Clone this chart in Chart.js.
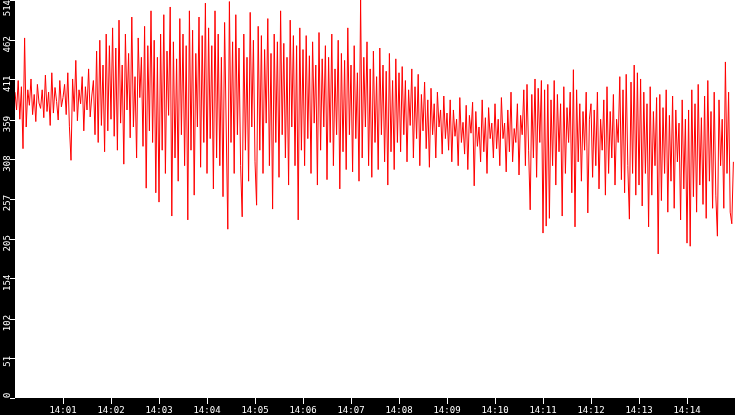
<!DOCTYPE html>
<html>
<head>
<meta charset="utf-8">
<script src="https://cdn.jsdelivr.net/npm/chart.js@4.4.1/dist/chart.umd.min.js"></script>
<style>
  html, body { margin: 0; padding: 0; background: #000; }
  #wrap { width: 735px; height: 415px; }
</style>
</head>
<body>
<div id="wrap"><canvas id="load" width="735" height="415"></canvas></div>
<script>
  // one sample every 2 seconds starting at 14:00:00, one row per minute
  const sampleStep = 2;
  const loadValues = [
    395, 372, 410, 360, 402, 322, 465, 350, 398, 378, 412, 366, 392, 357, 405, 381, 374, 398, 362, 417, 370, 395, 352, 420, 368, 401, 383, 359, 410, 376,
    388, 405, 366, 420, 351, 307, 412, 370, 436, 358, 398, 380, 415, 345, 402, 372, 425, 363, 390, 410, 340, 448, 330, 462, 352, 430, 318, 470, 345, 455,
    360, 478, 338, 452, 320, 488, 355, 430, 302, 470, 372, 445, 336, 492, 350, 415, 310, 465, 388, 440, 325, 480, 271, 455, 345, 500, 330, 462, 265, 440,
    253, 470, 320, 495, 290, 448, 365, 505, 235, 460, 310, 438, 280, 490, 340, 470, 300, 455, 230, 500, 320, 475, 262, 445, 350, 492, 298, 468, 330, 510,
    290, 478, 335, 455, 270, 500, 310, 470, 300, 440, 260, 485, 350, 218, 512, 330, 460, 290, 495, 340, 452, 300, 234, 470, 320, 440, 280, 498, 350, 462,
    305, 249, 480, 320, 468, 290, 450, 355, 490, 300, 445, 244, 470, 330, 460, 285, 500, 340, 458, 310, 440, 275, 488, 350, 468, 300, 455, 230, 478, 320,
    450, 300, 468, 335, 442, 290, 460, 355, 430, 275, 472, 320, 438, 350, 455, 282, 440, 330, 470, 300, 425, 340, 462, 270, 445, 318, 436, 295, 478, 340,
    430, 292, 455, 335, 420, 280, 514, 310, 440, 350, 460, 300, 425, 285, 448, 330, 415, 295, 452, 340, 430, 305, 422, 275, 445, 318, 410, 295, 438, 330,
    420, 318, 428, 340, 410, 305, 398, 352, 425, 310, 402, 335, 418, 300, 392, 345, 408, 322, 385, 298, 400, 340, 380, 310, 395, 350, 372, 315, 390, 335,
    368, 320, 385, 305, 372, 338, 360, 300, 388, 330, 356, 315, 378, 295, 365, 342, 382, 274, 370, 325, 350, 305, 385, 318, 362, 290, 375, 335, 355, 310,
    380, 322, 360, 300, 388, 335, 355, 292, 372, 318, 395, 305, 348, 330, 380, 288, 365, 340, 398, 300, 405, 320, 243, 392, 310, 412, 285, 400, 330, 410,
    213, 398, 222, 405, 232, 385, 300, 410, 275, 392, 318, 380, 235, 402, 290, 375, 330, 395, 265, 424, 221, 398, 305, 380, 280, 370, 320, 395, 239, 360,
    380, 285, 372, 300, 395, 270, 360, 320, 385, 262, 402, 290, 370, 310, 392, 275, 360, 330, 415, 282, 398, 265, 418, 300, 231, 408, 290, 430, 262, 420,
    275, 412, 248, 395, 290, 380, 221, 402, 262, 370, 300, 388, 186, 392, 255, 375, 290, 398, 240, 365, 280, 390, 245, 372, 305, 355, 230, 385, 270, 360,
    200, 372, 196, 398, 260, 380, 240, 405, 275, 362, 250, 390, 232, 410, 280, 370, 245, 395, 262, 209, 385, 300, 360, 245, 434, 290, 395, 240, 225, 305
  ];
  const xTickSeconds = [60, 120, 180, 240, 300, 360, 420, 480, 540, 600, 660, 720, 780, 840];
  const xTickLabels = ['14:01', '14:02', '14:03', '14:04', '14:05', '14:06', '14:07',
                       '14:08', '14:09', '14:10', '14:11', '14:12', '14:13', '14:14'];
  const yTicks = [0, 51, 102, 154, 205, 257, 308, 359, 411, 462, 514];

  const points = loadValues.map((v, i) => ({ x: i * sampleStep, y: v }));
  const fontFamily = 'DejaVu Sans Mono';

  // black frame around a white plot area
  const frame = {
    id: 'frame',
    beforeDraw(chart) {
      const { ctx, chartArea: a } = chart;
      ctx.save();
      ctx.fillStyle = '#000';
      ctx.fillRect(0, 0, chart.width, chart.height);
      ctx.fillStyle = '#fff';
      ctx.fillRect(a.left, a.top, a.right - a.left, a.bottom - a.top);
      ctx.restore();
    }
  };

  // vertical y labels, reading upward, kept inside the strip
  const yLabels = {
    id: 'yLabels',
    afterDraw(chart) {
      const { ctx, chartArea: a } = chart;
      const ys = chart.scales.y;
      ctx.save();
      ctx.font = '9px "' + fontFamily + '"';
      ctx.fillStyle = '#fff';
      ctx.textAlign = 'left';
      ctx.textBaseline = 'alphabetic';
      yTicks.forEach(v => {
        const txt = String(v);
        const w = ctx.measureText(txt).width;
        const py = ys.getPixelForValue(v);
        let start = py + w * 0.75;
        if (start - w < a.top) start = a.top + w;
        if (start > a.bottom) start = a.bottom;
        ctx.save();
        ctx.translate(10, start);
        ctx.rotate(-Math.PI / 2);
        ctx.fillText(txt, 0, 0);
        ctx.restore();
      });
      ctx.restore();
    }
  };

  new Chart(document.getElementById('load'), {
    type: 'line',
    data: {
      datasets: [{
        data: points,
        borderColor: '#ff0000',
        borderWidth: 1,
        pointRadius: 0,
        tension: 0,
        fill: false
      }]
    },
    options: {
      responsive: false,
      animation: false,
      layout: { padding: 0 },
      plugins: { legend: { display: false }, tooltip: { enabled: false } },
      scales: {
        x: {
          type: 'linear',
          min: 0,
          max: 900,
          afterBuildTicks: s => { s.ticks = xTickSeconds.map(v => ({ value: v })); },
          afterFit: s => { s.height = 17; s.paddingLeft = 0; s.paddingRight = 0; },
          ticks: {
            color: '#fff',
            font: { family: fontFamily, size: 9 },
            padding: 1,
            maxRotation: 0,
            autoSkip: false,
            callback: v => xTickLabels[xTickSeconds.indexOf(v)]
          },
          grid: { drawOnChartArea: false, drawTicks: true, tickLength: 6, tickColor: '#fff' },
          border: { display: false }
        },
        y: {
          min: 0,
          max: 514,
          afterBuildTicks: s => { s.ticks = yTicks.map(v => ({ value: v })); },
          afterFit: s => { s.width = 15; s.paddingTop = 0; s.paddingBottom = 0; },
          ticks: { display: false },
          grid: { drawOnChartArea: false, drawTicks: true, tickLength: 5, tickColor: '#fff' },
          border: { display: false }
        }
      }
    },
    plugins: [frame, yLabels]
  });
</script>
</body>
</html>
